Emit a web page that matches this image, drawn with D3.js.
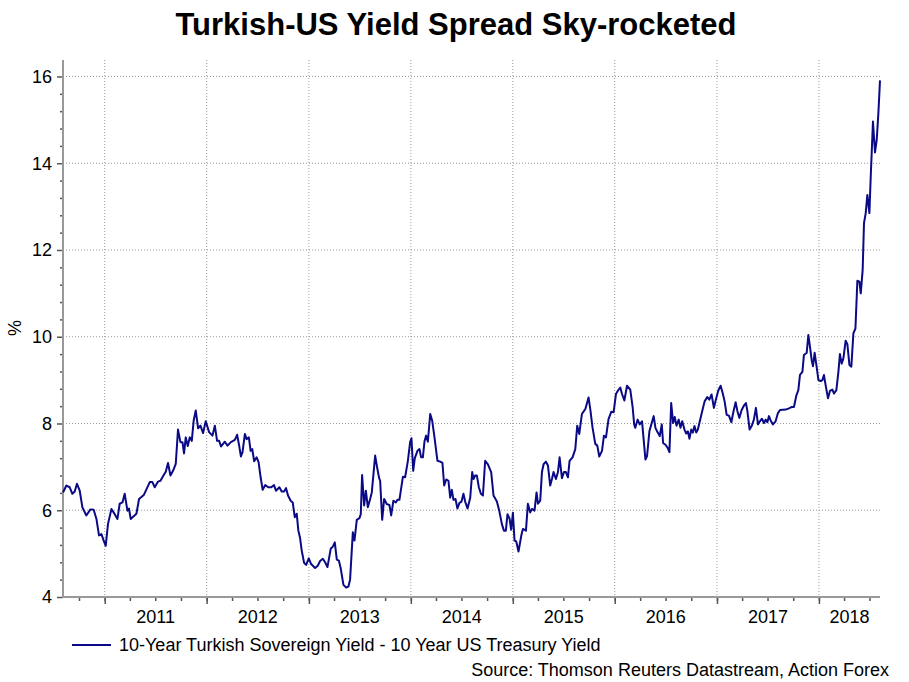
<!DOCTYPE html>
<html lang="en">
<head>
<meta charset="UTF-8">
<title>Turkish-US Yield Spread</title>
<style>
  body { margin: 0; background: #fff; }
  svg { display: block; font-family: "Liberation Sans", Arial, sans-serif; }
  .grid line { stroke: #9a9a9a; stroke-width: 1; stroke-dasharray: 1,2; }
  .tick-lbl { font-size: 18px; fill: #000; }
</style>
<script src="https://cdn.jsdelivr.net/npm/d3@7"></script>
</head>
<body>
<script>

// weekly-ish readings, dates as decimal years
var dates = [
  2010.591,2010.624,2010.657,2010.683,2010.706,2010.728,2010.755,2010.781,2010.820,2010.860,2010.892,2010.919,2010.944,2010.968,2010.990,
  2011.010,2011.032,2011.066,2011.098,2011.125,2011.147,2011.174,2011.196,2011.223,2011.238,
  2011.255,2011.311,2011.337,2011.383,2011.415,2011.442,2011.468,2011.491,2011.523,2011.547,
  2011.579,2011.599,2011.621,2011.645,2011.670,2011.697,2011.719,2011.743,2011.763,2011.778,
  2011.795,2011.815,2011.834,2011.854,2011.873,2011.893,2011.916,2011.939,2011.965,2011.991,
  2012.024,2012.057,2012.080,2012.102,2012.122,2012.141,2012.178,2012.204,2012.237,2012.276,
  2012.298,2012.318,2012.335,2012.351,2012.374,2012.391,2012.413,2012.430,2012.446,2012.465,
  2012.489,2012.508,2012.528,2012.548,2012.573,2012.603,2012.632,2012.659,2012.678,2012.711,
  2012.734,2012.757,2012.776,2012.796,2012.822,2012.842,2012.862,2012.881,2012.897,2012.914,
  2012.930,2012.953,2012.973,2012.999,
  2013.022,2013.061,2013.087,2013.110,2013.137,2013.159,2013.182,2013.215,2013.235,2013.254,
  2013.274,2013.294,2013.313,2013.339,2013.365,2013.388,2013.404,2013.431,2013.447,2013.470,
  2013.496,2013.509,2013.522,2013.542,2013.559,2013.578,2013.601,2013.617,2013.650,2013.672,
  2013.689,2013.699,2013.719,2013.738,2013.765,2013.790,2013.807,2013.829,2013.853,2013.869,
  2013.888,2013.922,2013.944,2013.971,2013.993,
  2014.006,2014.023,2014.039,2014.065,2014.085,2014.101,2014.118,2014.134,2014.150,2014.167,
  2014.190,2014.209,2014.232,2014.261,2014.288,2014.310,2014.327,2014.347,2014.369,2014.386,
  2014.402,2014.418,2014.438,2014.457,2014.477,2014.497,2014.516,2014.533,2014.556,2014.582,
  2014.602,2014.615,2014.631,2014.648,2014.667,2014.687,2014.707,2014.729,2014.756,2014.788,
  2014.811,2014.844,2014.867,2014.893,2014.913,2014.932,2014.948,2014.968,2014.984,
  2015.001,2015.017,2015.034,2015.056,2015.083,2015.099,2015.129,2015.148,2015.171,2015.188,
  2015.213,2015.233,2015.247,2015.269,2015.286,2015.302,2015.325,2015.345,2015.367,2015.384,
  2015.400,2015.423,2015.443,2015.459,2015.482,2015.502,2015.521,2015.541,2015.557,2015.586,
  2015.613,2015.632,2015.652,2015.678,2015.711,2015.743,2015.760,2015.782,2015.809,2015.829,
  2015.848,2015.875,2015.894,2015.914,2015.939,2015.966,2015.989,
  2016.012,2016.032,2016.054,2016.071,2016.094,2016.120,2016.152,2016.175,2016.190,2016.201,
  2016.224,2016.244,2016.267,2016.283,2016.300,2016.316,2016.339,2016.358,2016.381,2016.398,
  2016.414,2016.440,2016.460,2016.473,2016.496,2016.518,2016.535,2016.552,2016.571,2016.587,
  2016.604,2016.626,2016.643,2016.660,2016.682,2016.699,2016.715,2016.731,2016.748,2016.764,
  2016.780,2016.797,2016.813,2016.832,2016.856,2016.879,2016.905,2016.925,2016.947,2016.970,
  2016.989,
  2017.013,2017.036,2017.055,2017.075,2017.095,2017.117,2017.141,2017.160,2017.183,2017.200,
  2017.219,2017.242,2017.264,2017.284,2017.298,2017.320,2017.340,2017.362,2017.382,2017.402,
  2017.421,2017.441,2017.461,2017.477,2017.494,2017.510,2017.526,2017.549,2017.575,2017.598,
  2017.618,2017.674,2017.706,2017.730,2017.755,2017.779,2017.798,2017.814,2017.838,2017.853,
  2017.880,2017.896,2017.912,2017.929,2017.942,2017.958,2017.975,2017.995,
  2018.017,2018.034,2018.049,2018.066,2018.089,2018.108,2018.132,2018.148,2018.171,2018.191,
  2018.206,2018.223,2018.240,2018.262,2018.279,2018.299,2018.318,2018.338,2018.358,2018.377,
  2018.397,2018.410,2018.429,2018.442,2018.459,2018.475,2018.495,2018.508,2018.530,2018.550,
  2018.567,2018.583,2018.599
];

// 10y Turkish yield minus 10y US treasury yield, %
var spread = [
  6.41,6.57,6.53,6.38,6.43,6.61,6.45,6.07,5.88,6.02,6.01,5.80,5.42,5.45,5.30,
  5.18,5.68,6.03,5.91,5.80,6.15,6.18,6.38,5.99,6.04,
  5.80,5.92,6.26,6.35,6.51,6.65,6.65,6.53,6.66,6.68,
  6.81,6.89,7.09,6.80,6.91,7.07,7.86,7.57,7.57,7.31,
  7.68,7.48,7.68,7.60,8.07,8.30,7.89,7.95,7.78,8.05,
  7.80,7.72,7.95,7.60,7.60,7.47,7.58,7.49,7.57,7.62,
  7.74,7.49,7.24,7.34,7.76,7.64,7.68,7.37,7.41,7.13,
  7.22,7.11,6.76,6.47,6.58,6.53,6.53,6.58,6.45,6.53,
  6.43,6.43,6.51,6.34,6.22,6.18,5.84,5.92,5.53,5.36,
  5.07,4.79,4.74,4.89,
  4.76,4.67,4.72,4.83,4.88,4.80,4.69,5.12,5.16,5.26,
  4.86,4.84,4.65,4.28,4.22,4.24,4.40,5.49,5.30,5.78,
  5.82,5.91,6.81,6.11,6.45,6.07,6.26,6.41,7.26,6.95,
  6.74,6.68,5.78,6.26,6.14,6.12,5.88,6.22,6.18,6.24,
  6.24,6.77,6.76,7.14,7.57,
  7.66,6.91,7.20,7.37,7.41,7.22,7.22,7.59,7.72,7.58,
  8.22,8.07,7.68,7.14,7.12,7.09,6.57,6.71,6.68,6.29,
  6.47,6.24,6.26,6.04,6.17,6.20,6.38,6.20,6.04,6.28,
  6.88,6.72,6.80,6.80,6.53,6.38,6.34,7.14,7.06,6.88,
  6.34,6.20,5.99,5.68,5.53,5.53,5.91,5.81,5.55,
  5.94,5.30,5.28,5.05,5.41,5.57,5.53,6.15,5.95,6.03,
  5.99,6.41,6.15,6.22,6.88,7.06,7.12,7.03,6.57,6.72,
  6.88,6.72,6.88,7.22,6.74,6.88,6.88,6.76,7.14,7.22,
  7.41,7.95,7.76,8.22,8.33,8.60,8.33,7.91,7.53,7.49,
  7.24,7.37,7.72,7.68,8.10,8.27,8.26,
  8.68,8.76,8.83,8.68,8.53,8.87,8.78,8.38,7.98,7.90,
  8.09,7.98,8.05,7.63,7.17,7.25,7.82,7.98,8.17,7.90,
  7.82,7.71,7.98,7.55,7.51,7.44,7.34,8.47,8.01,8.15,
  7.95,8.09,7.90,8.05,7.86,7.77,7.82,7.65,7.86,7.79,
  7.94,7.79,7.86,8.05,8.29,8.51,8.61,8.55,8.67,8.36,
  8.55,
  8.76,8.87,8.71,8.51,8.20,8.18,8.03,8.26,8.49,8.29,
  8.13,8.31,8.41,8.47,8.29,7.86,7.94,8.09,8.36,7.98,
  8.05,8.11,8.01,8.09,8.03,8.17,8.07,7.98,8.05,8.24,
  8.31,8.32,8.35,8.38,8.38,8.65,8.77,9.12,9.19,9.58,
  9.63,10.04,9.77,9.46,9.32,9.63,9.35,9.00,
  8.98,9.00,9.12,8.88,8.58,8.75,8.78,8.69,8.77,9.19,
  9.60,9.38,9.50,9.91,9.83,9.35,9.31,10.08,10.19,11.29,
  11.27,11.00,11.54,12.62,12.85,13.27,12.85,13.69,14.96,14.25,
  14.54,15.15,15.91
];

var yearLabels = [2011, 2012, 2013, 2014, 2015, 2016, 2017, 2018];
var yTicks = [4, 6, 8, 10, 12, 14, 16];

var titleText = "Turkish-US Yield Spread Sky-rocketed";
var seriesName = "10-Year Turkish Sovereign Yield - 10 Year US Treasury Yield";
var sourceText = "Source: Thomson Reuters Datastream, Action Forex";

function decToDate(t) {
  var yr = Math.floor(t);
  var s = new Date(yr, 0, 1), e = new Date(yr + 1, 0, 1);
  return new Date(+s + (t - yr) * (e - s));
}

var data = dates.map(function(t, i) { return { date: decToDate(t), v: spread[i] }; });

const W = 909, H = 682;
const pLeft = 63, pRight = 880, pTop = 60, pBottom = 597;

const svg = d3.select("body").append("svg")
  .attr("width", W)
  .attr("height", H);

var x = d3.scaleTime()
  .domain(d3.extent(data, d => d.date))
  .range([pLeft, pRight]);

var y = d3.scaleLinear()
  .domain([4, 16.38])
  .range([pBottom, pTop]);

// grid
var grid = svg.append("g").attr("class", "grid");
grid.selectAll(".hg")
  .data(yTicks.filter(d => d > 4)).enter()
  .append("line")
  .attr("x1", pLeft).attr("x2", pRight)
  .attr("y1", d => y(d)).attr("y2", d => y(d));

var yearStarts = yearLabels.map(yr => new Date(yr, 0, 1));
grid.selectAll(".vg")
  .data(yearStarts).enter()
  .append("line")
  .attr("x1", d => x(d)).attr("x2", d => x(d))
  .attr("y1", pTop).attr("y2", pBottom);

// y axis: major + minor ticks
var yMinor = d3.range(4, 16.01, 0.4).filter(v => Math.abs(v / 2 - Math.round(v / 2)) > 0.01);
svg.append("g")
  .attr("transform", "translate(" + pLeft + ",0)")
  .call(d3.axisLeft(y).tickValues(yMinor).tickSize(3).tickFormat(""))
  .call(g => g.select(".domain").remove())
  .call(g => g.selectAll("line").attr("stroke", "#555").attr("stroke-width", 1.5));

svg.append("g")
  .attr("transform", "translate(" + pLeft + ",0)")
  .call(d3.axisLeft(y).tickValues(yTicks).tickSize(6).tickPadding(5).tickFormat(d3.format("d")))
  .call(g => g.select(".domain").remove())
  .call(g => g.selectAll("line").attr("stroke", "#555").attr("stroke-width", 1.5))
  .call(g => g.selectAll("text").attr("class", "tick-lbl").attr("font-family", null).attr("font-size", null));

// x axis: quarterly minor ticks, yearly major ticks
var quarters = d3.timeMonth.every(3).range(x.domain()[0], x.domain()[1]);
svg.append("g")
  .attr("transform", "translate(0," + pBottom + ")")
  .call(d3.axisBottom(x).tickValues(quarters).tickSize(4).tickFormat(""))
  .call(g => g.select(".domain").remove())
  .call(g => g.selectAll("line").attr("stroke", "#555").attr("stroke-width", 1.5));

svg.append("g")
  .attr("transform", "translate(0," + pBottom + ")")
  .call(d3.axisBottom(x).tickValues(yearStarts).tickSize(7).tickFormat(""))
  .call(g => g.select(".domain").remove())
  .call(g => g.selectAll("line").attr("stroke", "#555").attr("stroke-width", 1.5));

// year labels centred on the visible part of each year
function yearMid(yr) {
  var a = Math.max(x(new Date(yr, 0, 1)), pLeft);
  var b = Math.min(x(new Date(yr + 1, 0, 1)), pRight);
  return (a + b) / 2;
}
svg.append("g")
  .selectAll("text")
  .data(yearLabels).enter()
  .append("text")
  .attr("class", "tick-lbl")
  .attr("x", d => yearMid(d))
  .attr("y", 623)
  .attr("text-anchor", "middle")
  .text(d => d);

// axis lines
svg.append("line")
  .attr("x1", pLeft).attr("x2", pLeft)
  .attr("y1", pTop).attr("y2", pBottom + 1)
  .attr("stroke", "#999").attr("stroke-width", 2);
svg.append("line")
  .attr("x1", pLeft).attr("x2", pRight)
  .attr("y1", pBottom).attr("y2", pBottom)
  .attr("stroke", "#999").attr("stroke-width", 2);

// series
var line = d3.line()
  .x(d => x(d.date))
  .y(d => y(d.v));

svg.append("path")
  .datum(data)
  .attr("fill", "none")
  .attr("stroke", "#0a0a86")
  .attr("stroke-width", 2)
  .attr("stroke-linejoin", "round")
  .attr("d", line);

// title and labels
svg.append("text")
  .attr("x", 456).attr("y", 35)
  .attr("text-anchor", "middle")
  .attr("font-size", 31)
  .attr("font-weight", "bold")
  .text(titleText);

svg.append("text")
  .attr("transform", "translate(21,328) rotate(-90)")
  .attr("text-anchor", "middle")
  .attr("font-size", 18)
  .text("%");

// legend
svg.append("line")
  .attr("x1", 72).attr("x2", 111)
  .attr("y1", 645).attr("y2", 645)
  .attr("stroke", "#0a0a86").attr("stroke-width", 2);
svg.append("text")
  .attr("x", 119).attr("y", 651)
  .attr("font-size", 18)
  .text(seriesName);

svg.append("text")
  .attr("x", 889).attr("y", 676)
  .attr("text-anchor", "end")
  .attr("font-size", 18)
  .text(sourceText);

</script>
</body>
</html>
